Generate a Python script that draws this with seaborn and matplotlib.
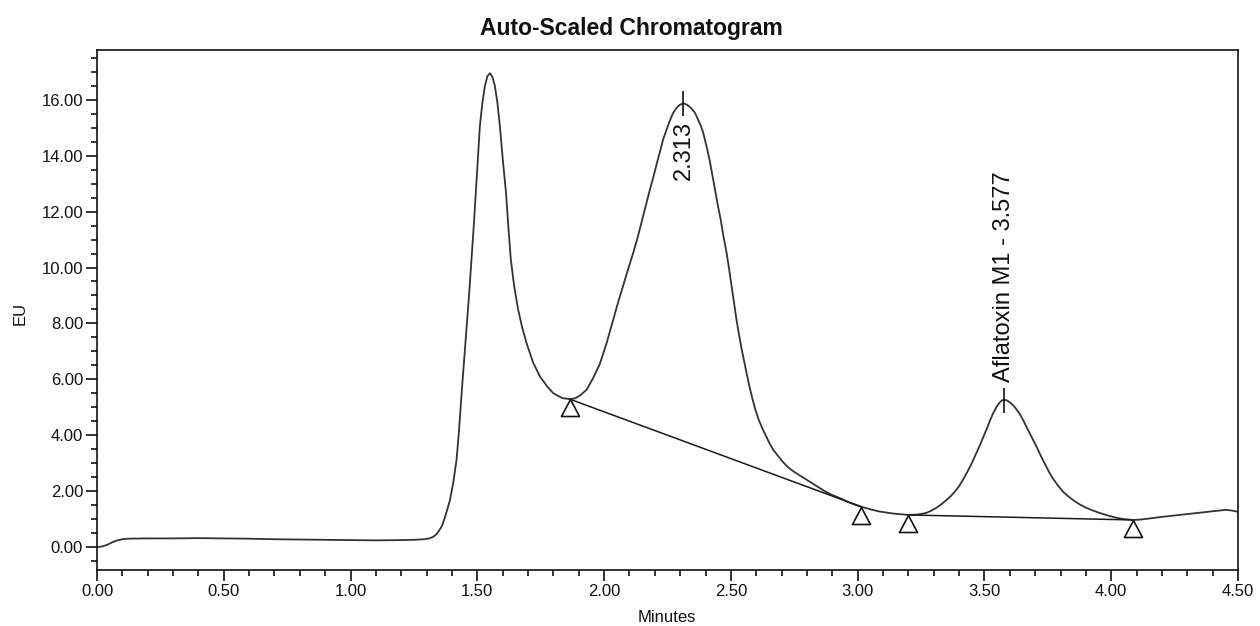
import numpy as np
import pandas as pd
import matplotlib
matplotlib.use("Agg")
import matplotlib.pyplot as plt
import seaborn as sns
from matplotlib.path import Path
from matplotlib.ticker import MultipleLocator, FormatStrFormatter

# ---- data ----
time_min = [0.00, 0.02, 0.04, 0.06, 0.08, 0.10, 0.12, 0.20, 0.30, 0.40, 0.50, 0.60, 0.70,
            0.80, 0.90, 1.00, 1.10, 1.20, 1.25, 1.29, 1.31, 1.325, 1.34, 1.35, 1.36, 1.37,
            1.38, 1.392, 1.405, 1.418, 1.428, 1.438, 1.448, 1.458, 1.468, 1.477, 1.486,
            1.494, 1.502, 1.510, 1.52, 1.53, 1.54, 1.55, 1.56, 1.569, 1.579, 1.589, 1.60,
            1.613, 1.622, 1.632, 1.645, 1.661, 1.677, 1.694, 1.72, 1.747, 1.775, 1.80,
            1.835, 1.865, 1.885, 1.905, 1.931, 1.957, 1.983, 2.01, 2.036, 2.055, 2.075,
            2.095, 2.115, 2.133, 2.15, 2.166, 2.181, 2.196, 2.21, 2.222, 2.233, 2.245,
            2.255, 2.265, 2.273, 2.285, 2.298, 2.313, 2.328, 2.343, 2.358, 2.37, 2.38,
            2.39, 2.397, 2.407, 2.417, 2.427, 2.437, 2.448, 2.46, 2.471, 2.483, 2.492,
            2.50, 2.511, 2.522, 2.532, 2.542, 2.552, 2.562, 2.573, 2.585, 2.597, 2.61,
            2.625, 2.64, 2.653, 2.667, 2.685, 2.70, 2.715, 2.73, 2.748, 2.765, 2.783,
            2.80, 2.835, 2.87, 2.90, 2.93, 2.97, 3.015, 3.05, 3.087, 3.14, 3.198, 3.235,
            3.27, 3.29, 3.31, 3.33, 3.35, 3.368, 3.385, 3.40, 3.415, 3.432, 3.45, 3.465,
            3.48, 3.495, 3.51, 3.522, 3.535, 3.547, 3.558, 3.568, 3.577, 3.588, 3.60,
            3.61, 3.62, 3.63, 3.64, 3.655, 3.67, 3.688, 3.705, 3.722, 3.74, 3.755, 3.77,
            3.79, 3.81, 3.83, 3.85, 3.875, 3.90, 3.93, 3.955, 3.99, 4.02, 4.05, 4.085,
            4.11, 4.14, 4.20, 4.27, 4.30, 4.38, 4.45, 4.475, 4.50]
signal_eu = [0.00, 0.02, 0.08, 0.17, 0.24, 0.28, 0.30, 0.31, 0.31, 0.32, 0.31, 0.30, 0.28,
             0.27, 0.26, 0.25, 0.24, 0.25, 0.26, 0.28, 0.31, 0.36, 0.47, 0.60, 0.75, 1.00,
             1.30, 1.68, 2.30, 3.12, 4.20, 5.50, 6.70, 7.90, 9.10, 10.29, 11.50,
             12.68, 13.90, 15.06, 15.90, 16.50, 16.85, 16.95, 16.80, 16.50, 15.90, 15.06, 13.90,
             12.68, 11.50, 10.29, 9.35, 8.49, 7.85, 7.30, 6.60, 6.10, 5.75, 5.50,
             5.33, 5.29, 5.32, 5.42, 5.63, 6.05, 6.55, 7.30, 8.14, 8.75, 9.35,
             9.95, 10.53, 11.10, 11.70, 12.25, 12.80, 13.30, 13.80, 14.20, 14.59, 14.90,
             15.15, 15.38, 15.54, 15.70, 15.82, 15.87, 15.82, 15.70, 15.54, 15.30, 15.10,
             14.85, 14.59, 14.22, 13.80, 13.30, 12.80, 12.25, 11.70, 11.10, 10.53, 10.00,
             9.50, 8.80, 8.14, 7.60, 7.10, 6.65, 6.22, 5.75, 5.30, 4.90, 4.55,
             4.23, 3.95, 3.70, 3.48, 3.27, 3.10, 2.95, 2.82, 2.70, 2.60, 2.50,
             2.40, 2.20, 2.00, 1.86, 1.75, 1.58, 1.44, 1.35, 1.27, 1.20, 1.15, 1.16,
             1.22, 1.30, 1.40, 1.53, 1.68, 1.83, 2.00, 2.18, 2.40, 2.68, 3.00, 3.30,
             3.60, 3.92, 4.25, 4.53, 4.80, 5.00, 5.15, 5.24, 5.27, 5.25, 5.18,
             5.10, 5.00, 4.88, 4.75, 4.50, 4.22, 3.90, 3.60, 3.27, 2.95, 2.68, 2.45,
             2.20, 1.98, 1.82, 1.68, 1.53, 1.41, 1.30, 1.22, 1.12, 1.05, 1.00, 0.97,
             0.98, 1.01, 1.08, 1.15, 1.18, 1.26, 1.33, 1.31, 1.26]

# integration baselines (start/end of each)
baseline1_t = [1.865, 3.015]
baseline1_v = [5.29, 1.44]
baseline2_t = [3.198, 4.085]
baseline2_v = [1.15, 0.97]

# peak-boundary markers
marker_t = [1.865, 3.015, 3.198, 4.085]
marker_v = [5.29, 1.44, 1.15, 0.97]

# labelled peaks
peak_t = [2.313, 3.577]
peak_v = [15.87, 5.27]
peak_labels = ["2.313", "Aflatoxin M1 - 3.577"]

x_ticks = [0.0, 0.5, 1.0, 1.5, 2.0, 2.5, 3.0, 3.5, 4.0, 4.5]
y_ticks = [0, 2, 4, 6, 8, 10, 12, 14, 16]

# ---- style ----
sns.set_style("ticks")
plt.rcParams['font.family'] = ['Liberation Sans', 'DejaVu Sans']
plt.rcParams['axes.linewidth'] = 1.2

W, H = 1260, 626
fig = plt.figure(figsize=(W / 100, H / 100), dpi=100)
ax = fig.add_axes([97 / W, 1 - 570 / H, (1238 - 97) / W, (570 - 50) / H])

df = pd.DataFrame({"Minutes": time_min, "EU": signal_eu})
sns.lineplot(data=df, x="Minutes", y="EU", ax=ax, color="#333333", linewidth=1.3,
             estimator=None, sort=False)
sns.lineplot(x=baseline1_t, y=baseline1_v, ax=ax, color="#1a1a1a", linewidth=1.1,
             estimator=None)
sns.lineplot(x=baseline2_t, y=baseline2_v, ax=ax, color="#1a1a1a", linewidth=1.1,
             estimator=None)

tri = Path([(0, 0), (-0.53, -1), (0.53, -1), (0, 0)],
           [Path.MOVETO, Path.LINETO, Path.LINETO, Path.CLOSEPOLY])
ax.plot(marker_t, marker_v, linestyle="none", marker=tri, markersize=24.5,
        markerfacecolor="none", markeredgecolor="#111111", markeredgewidth=1.2)

ax.plot(peak_t, peak_v, linestyle="none", marker="|", markersize=18,
        markeredgewidth=1.2, color="#111111")

ax.annotate(peak_labels[0], xy=(peak_t[0], peak_v[0]), xytext=(0, -13),
            textcoords="offset points", rotation=90, ha="center", va="top",
            fontsize=17, color="#111111")
ax.annotate(peak_labels[1], xy=(peak_t[1], peak_v[1]), xytext=(0, 13),
            textcoords="offset points", rotation=90, ha="center", va="bottom",
            fontsize=17, color="#111111")

ax.set_xlim(0, 4.5)
ax.set_ylim(-0.82, 17.78)
ax.set_xticks(x_ticks)
ax.set_yticks(y_ticks)
ax.xaxis.set_major_formatter(FormatStrFormatter("%.2f"))
ax.yaxis.set_major_formatter(FormatStrFormatter("%.2f"))
ax.xaxis.set_minor_locator(MultipleLocator(0.1))
ax.yaxis.set_minor_locator(MultipleLocator(0.5))
ax.tick_params(which="major", direction="out", length=8, width=1.2, labelsize=12,
               pad=2, colors="#111111")
ax.tick_params(which="minor", direction="out", length=4.5, width=1.2, colors="#111111")
for s in ax.spines.values():
    s.set_visible(True)
    s.set_color("#111111")

ax.set_xlabel("")
ax.set_ylabel("")
fig.text(667 / W, 1 - 617 / H, "Minutes", ha="center", va="center", fontsize=12,
         color="#111111")
fig.text(20 / W, 1 - 313 / H, "EU", ha="center", va="center", rotation=90,
         fontsize=12, color="#111111")
fig.text(631 / W, 1 - 35 / H, "Auto-Scaled Chromatogram", ha="center", va="baseline",
         fontsize=16.5, fontweight="bold", color="#111111")

fig.savefig("out.png", dpi=100)
